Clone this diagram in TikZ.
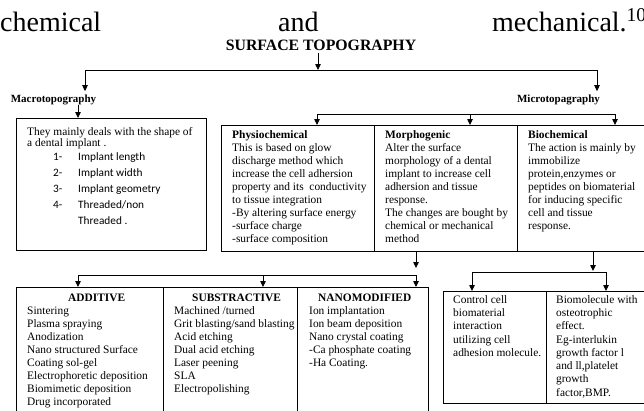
\documentclass[tikz,border=0pt]{standalone}
\usepackage{fontspec}
\setmainfont{Liberation Serif}
\newfontfamily\calib{Carlito}
\usetikzlibrary{arrows.meta,positioning}
\tikzstyle{cell} = [rectangle, draw, line width=0.8pt, outer sep=0pt, inner sep=0pt, anchor=north west]
\tikzstyle{txt} = [inner sep=0pt, anchor=north west, align=left, font=\fontsize{11.4}{13}\selectfont]
\tikzstyle{lbl} = [inner sep=3pt, anchor=base, font=\bfseries\fontsize{11}{13}\selectfont]
\tikzstyle{big} = [inner sep=0pt, anchor=base west, font=\fontsize{28}{30}\selectfont]
\tikzstyle{line} = [draw, line width=0.8pt, -{Triangle[length=6pt,width=5.5pt]}]
\tikzstyle{bar} = [draw, line width=0.8pt]

\begin{document}
\begin{tikzpicture}[x=1pt,y=-1pt]
    \clip (0,0) rectangle (644,410);
    % Text of the page above
    \node [big] (w1) at (0,31) {chemical};
    \node [big] (w2) at (278,31) {and};
    \node [big] (w3) at (492,31) {mechanical.\textsuperscript{10}};
    % Place nodes
    \node [inner sep=0pt, anchor=base, font=\bfseries\fontsize{15.8}{18}\selectfont] (topo) at (321,50) {SURFACE TOPOGRAPHY};
    \node [lbl] (macro) at (53.5,102) {Macrotopography};
    \node [lbl] (micro) at (558.5,102) {Microtopagraphy};

    \node [cell, minimum width=190pt, minimum height=132pt] (macbox) at (16,118) {};
    \node [txt, font=\fontsize{11.4}{11.4}\selectfont] (macintro) at (27,127) {They mainly deals with the shape of\\a dental implant .};
    \node [inner sep=0pt, anchor=north west, font=\calib\fontsize{11.3}{16}\selectfont] (maclist) at (53,149) {%
      \begin{tabular}{@{}p{25pt}@{}l@{}}
      1- & Implant length\\
      2- & Implant width\\
      3- & Implant geometry\\
      4- & Threaded/non\\
         & Threaded .
      \end{tabular}};

    \node [cell, minimum width=153pt, minimum height=126pt] (physio) at (221,125) {};
    \node [cell, minimum width=143pt, minimum height=126pt, right=0pt of physio] (morpho) {};
    \node [cell, minimum width=135pt, minimum height=126pt, right=0pt of morpho] (bio) {};
    \node [txt] (physiotxt) at ([xshift=11pt,yshift=-5pt]physio.north west) {\textbf{Physiochemical}\\This is based on glow\\discharge method which\\increase the cell adhersion\\property and its\ \ conductivity\\to tissue integration\\-By altering surface energy\\-surface charge\\-surface composition};
    \node [txt] (morphotxt) at ([xshift=11pt,yshift=-5pt]morpho.north west) {\textbf{Morphogenic}\\Alter the surface\\morphology of a dental\\implant to increase cell\\adhersion and tissue\\response.\\The changes are bought by\\chemical or mechanical\\method};
    \node [txt] (biotxt) at ([xshift=11pt,yshift=-5pt]bio.north west) {\textbf{Biochemical}\\The action is mainly by\\immobilize\\protein,enzymes or\\peptides on biomaterial\\for inducing specific\\cell and tissue\\response.};

    \node [cell, minimum width=147pt, minimum height=130pt] (add) at (16,287) {};
    \node [cell, minimum width=134pt, minimum height=130pt, right=0pt of add] (sub) {};
    \node [cell, minimum width=131pt, minimum height=130pt, right=0pt of sub] (nano) {};
    \node [txt] (addtxt) at ([xshift=11pt,yshift=-7pt]add.north west) {\hspace*{41pt}\textbf{ADDITIVE}\\Sintering\\Plasma spraying\\Anodization\\Nano structured Surface\\Coating sol-gel\\Electrophoretic deposition\\Biomimetic deposition\\Drug incorporated};
    \node [txt] (subtxt) at ([xshift=11pt,yshift=-7pt]sub.north west) {\hspace*{18pt}\textbf{SUBSTRACTIVE}\\Machined /turned\\Grit blasting/sand blasting\\Acid etching\\Dual acid etching\\Laser peening\\SLA\\Electropolishing};
    \node [txt] (nanotxt) at ([xshift=12pt,yshift=-7pt]nano.north west) {\hspace*{9pt}\textbf{NANOMODIFIED}\\Ion implantation\\Ion beam deposition\\Nano crystal coating\\-Ca phosphate coating\\-Ha Coating.};

    \node [cell, minimum width=103pt, minimum height=112pt] (ctrl) at (443,291) {};
    \node [cell, minimum width=110pt, minimum height=112pt, right=0pt of ctrl] (biomol) {};
    \node [txt, font=\fontsize{11.4}{13.3}\selectfont] (ctrltxt) at ([xshift=10pt,yshift=-4pt]ctrl.north west) {Control cell\\biomaterial\\interaction\\utilizing cell\\adhesion molecule.};
    \node [txt, font=\fontsize{11.4}{13.3}\selectfont] (biomoltxt) at ([xshift=10pt,yshift=-4pt]biomol.north west) {Biomolecule with\\osteotrophic\\effect.\\Eg-interlukin\\growth factor l\\and ll,platelet\\growth\\factor,BMP.};

    % Junction points
    \coordinate (tj) at (318,70);
    \coordinate (jl) at (85,70);
    \coordinate (jr) at (597,70);
    \coordinate (ma) at ([xshift=24.5pt,yshift=-3pt]macro.base);
    \coordinate (mj1) at (317,114);
    \coordinate (mj2) at (470,114);
    \coordinate (mj3) at (615,114);
    \coordinate (dl) at (416,268);
    \coordinate (dr) at (593,271);
    \coordinate (ll1) at (78,275);
    \coordinate (ll2) at (263,275);
    \coordinate (ll3) at (416,275);
    \coordinate (rl1) at (472,272);
    \coordinate (rl2) at (606,272);

    % Draw edges
    \path [line] ([yshift=-3pt]topo.south -| tj) -- (tj);
    \path [bar] (jl) -- (jr);
    \path [line] (jl) -- (jl |- macro.north);
    \path [line] (jr) -- (jr |- micro.north);
    \path [line] (ma) -- (ma |- macbox.north);

    \path [bar] (mj1) -- (mj3);
    \path [line] (mj1) -- (mj1 |- physio.north);
    \path [line] (mj2) -- (mj2 |- morpho.north);
    \path [line] (mj3) -- (mj3 |- bio.north);

    \path [line] (dl |- morpho.south) -- (dl);
    \path [line] (dr |- bio.south) -- (dr);

    \path [bar] (ll1) -- (ll3);
    \path [line] (ll1) -- (ll1 |- add.north);
    \path [line] (ll2) -- (ll2 |- sub.north);
    \path [line] (ll3) -- (ll3 |- nano.north);

    \path [bar] (rl1) -- (rl2);
    \path [line] (rl1) -- (rl1 |- ctrl.north);
    \path [line] (rl2) -- (rl2 |- biomol.north);
\end{tikzpicture}
\end{document}
